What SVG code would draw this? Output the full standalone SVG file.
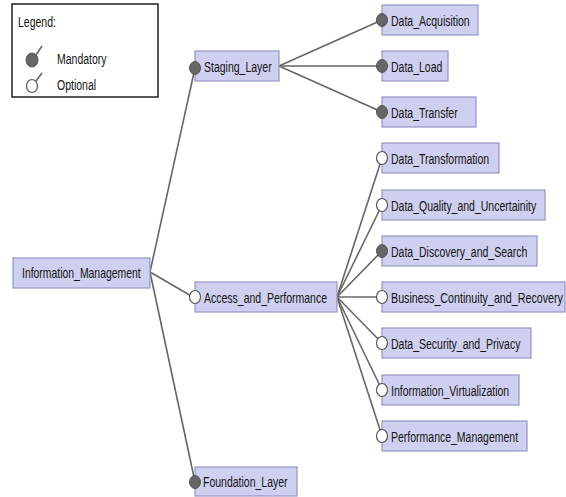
<svg xmlns="http://www.w3.org/2000/svg" width="566" height="497" viewBox="0 0 566 497">
  <style>
    .box { fill: #cfcff0; stroke: #9494c4; stroke-width: 1.2; }
    /* narrow labels: regular sans squeezed horizontally */
    .lbl { font-family: "Liberation Sans", Arial, sans-serif; font-size: 14px; fill: #141414; }
    .edge { stroke: #666; stroke-width: 1.6; fill: none; }
    .mand { fill: #666; stroke: #555; stroke-width: 1; }
    .opt { fill: #fff; stroke: #555; stroke-width: 1.2; }
  </style>
  <rect width="566" height="497" fill="#fff"/>

  <!-- legend -->
  <g id="legend">
    <rect x="12" y="4" width="146" height="93" fill="#fff" stroke="#222" stroke-width="1.5"/>
    <text class="lbl" transform="translate(18 27) scale(0.75 1)">Legend:</text>
    <ellipse class="mand" cx="32" cy="60" rx="6" ry="7"/>
    <line class="edge" x1="36" y1="55" x2="42" y2="46" stroke-width="1.2"/>
    <text class="lbl" transform="translate(57 64) scale(0.75 1)">Mandatory</text>
    <ellipse class="opt" cx="32" cy="86" rx="5.5" ry="6.5"/>
    <line class="edge" x1="36" y1="81" x2="42" y2="73" stroke-width="1.2"/>
    <text class="lbl" transform="translate(57 90) scale(0.75 1)">Optional</text>
  </g>

  <!-- connectors -->
  <g id="connectors">
    <line class="edge" x1="150" y1="272" x2="195" y2="68"/>
    <line class="edge" x1="150" y1="272" x2="193" y2="297"/>
    <line class="edge" x1="150" y1="272" x2="195" y2="482"/>
    <line class="edge" x1="279" y1="66" x2="382" y2="20"/>
    <line class="edge" x1="279" y1="66" x2="382" y2="66"/>
    <line class="edge" x1="279" y1="66" x2="382" y2="112"/>
    <line class="edge" x1="337" y1="297" x2="382" y2="158"/>
    <line class="edge" x1="337" y1="297" x2="382" y2="205"/>
    <line class="edge" x1="337" y1="297" x2="382" y2="251"/>
    <line class="edge" x1="337" y1="297" x2="382" y2="297"/>
    <line class="edge" x1="337" y1="297" x2="382" y2="343"/>
    <line class="edge" x1="337" y1="297" x2="382" y2="390"/>
    <line class="edge" x1="337" y1="297" x2="382" y2="436"/>
  </g>

  <g id="information_management">
    <rect class="box" x="13" y="258" width="137" height="30"/>
    <text class="lbl" transform="translate(22 278) scale(0.745 1)">Information_Management</text>
  </g>

  <g id="staging_layer">
    <rect class="box" x="195" y="51" width="84" height="30"/>
    <ellipse class="mand" cx="195" cy="68" rx="5.5" ry="6.5"/>
    <text class="lbl" transform="translate(204 72) scale(0.75 1)">Staging_Layer</text>
  </g>

  <g id="access_and_performance">
    <rect class="box" x="195" y="282" width="142" height="30"/>
    <ellipse class="opt" cx="195" cy="297" rx="5.5" ry="6.5"/>
    <text class="lbl" transform="translate(204 303) scale(0.75 1)">Access_and_Performance</text>
  </g>

  <g id="foundation_layer">
    <rect class="box" x="195" y="467" width="102" height="29"/>
    <ellipse class="mand" cx="195" cy="482" rx="5.5" ry="6.5"/>
    <text class="lbl" transform="translate(203 487) scale(0.75 1)">Foundation_Layer</text>
  </g>

  <g id="data_acquisition">
    <rect class="box" x="382" y="5" width="96" height="30"/>
    <ellipse class="mand" cx="382" cy="20" rx="5.5" ry="6.5"/>
    <text class="lbl" transform="translate(391 26) scale(0.75 1)">Data_Acquisition</text>
  </g>

  <g id="data_load">
    <rect class="box" x="382" y="51" width="66" height="30"/>
    <ellipse class="mand" cx="382" cy="66" rx="5.5" ry="6.5"/>
    <text class="lbl" transform="translate(391 72) scale(0.75 1)">Data_Load</text>
  </g>

  <g id="data_transfer">
    <rect class="box" x="382" y="97" width="94" height="30"/>
    <ellipse class="mand" cx="382" cy="112" rx="5.5" ry="6.5"/>
    <text class="lbl" transform="translate(391 118) scale(0.75 1)">Data_Transfer</text>
  </g>

  <g id="data_transformation">
    <rect class="box" x="382" y="143" width="117" height="30"/>
    <ellipse class="opt" cx="382" cy="158" rx="5.5" ry="6.5"/>
    <text class="lbl" transform="translate(391 164) scale(0.75 1)">Data_Transformation</text>
  </g>

  <g id="data_quality_and_uncertainity">
    <rect class="box" x="382" y="190" width="163" height="30"/>
    <ellipse class="opt" cx="382" cy="205" rx="5.5" ry="6.5"/>
    <text class="lbl" transform="translate(391 211) scale(0.75 1)">Data_Quality_and_Uncertainity</text>
  </g>

  <g id="data_discovery_and_search">
    <rect class="box" x="382" y="236" width="155" height="30"/>
    <ellipse class="mand" cx="382" cy="251" rx="5.5" ry="6.5"/>
    <text class="lbl" transform="translate(391 257) scale(0.75 1)">Data_Discovery_and_Search</text>
  </g>

  <g id="business_continuity_and_recovery">
    <rect class="box" x="382" y="282" width="183" height="30"/>
    <ellipse class="opt" cx="382" cy="297" rx="5.5" ry="6.5"/>
    <text class="lbl" transform="translate(391 303) scale(0.765 1)">Business_Continuity_and_Recovery</text>
  </g>

  <g id="data_security_and_privacy">
    <rect class="box" x="382" y="328" width="149" height="30"/>
    <ellipse class="opt" cx="382" cy="343" rx="5.5" ry="6.5"/>
    <text class="lbl" transform="translate(391 349) scale(0.75 1)">Data_Security_and_Privacy</text>
  </g>

  <g id="information_virtualization">
    <rect class="box" x="382" y="375" width="137" height="30"/>
    <ellipse class="opt" cx="382" cy="390" rx="5.5" ry="6.5"/>
    <text class="lbl" transform="translate(391 396) scale(0.75 1)">Information_Virtualization</text>
  </g>

  <g id="performance_management">
    <rect class="box" x="382" y="421" width="145" height="30"/>
    <ellipse class="opt" cx="382" cy="436" rx="5.5" ry="6.5"/>
    <text class="lbl" transform="translate(391 442) scale(0.75 1)">Performance_Management</text>
  </g>
</svg>
